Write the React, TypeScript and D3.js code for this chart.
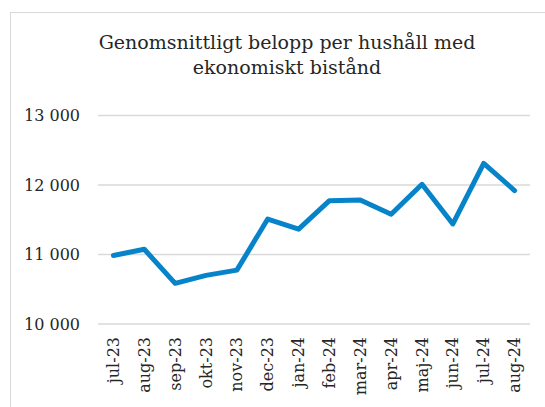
import React from "react";
import * as d3 from "d3";

const categories = ["jul-23","aug-23","sep-23","okt-23","nov-23","dec-23","jan-24","feb-24","mar-24","apr-24","maj-24","jun-24","jul-24","aug-24"];
const values = [10985, 11075, 10585, 10700, 10775, 11510, 11365, 11775, 11785, 11580, 12010, 11440, 12310, 11920];
const yTicks = [10000, 11000, 12000, 13000];
const titleLines = ["Genomsnittligt belopp per hushåll med", "ekonomiskt bistånd"];

const W = 545, H = 407;
const FONT = "DejaVu Serif";

export default function App() {
  const x = d3.scaleBand<string>().domain(categories).range([98, 530]);
  const y = d3.scaleLinear().domain([10000, 13000]).range([324, 115.5]);
  const line = d3.line<number>()
    .x((_, i) => (x(categories[i]) as number) + x.bandwidth() / 2)
    .y(d => y(d));
  const fmt = (v: number) => d3.format(",")(v).replace(",", " ");
  return (
    <svg width={W} height={H} style={{ position: "absolute", left: 0, top: 0 }}>
      <rect x={10.5} y={12.5} width={700} height={700} fill="none" stroke="#d9d9d9" strokeWidth={1} />
      {titleLines.map((t, i) => (
        <text key={i} x={287} y={49 + i * 25} textAnchor="middle" fontSize={19} fill="#262626" style={{ fontFamily: FONT }}>{t}</text>
      ))}
      {yTicks.map(t => (
        <g key={t}>
          <line x1={98} x2={530} y1={y(t)} y2={y(t)} stroke="#d9d9d9" strokeWidth={1.5} />
          <text x={80} y={y(t)} dy="0.35em" textAnchor="end" fontSize={16} fill="#262626" style={{ fontFamily: FONT }}>{fmt(t)}</text>
        </g>
      ))}
      {categories.map(c => (
        <text key={c} transform={`translate(${(x(c) as number) + x.bandwidth() / 2},337) rotate(-90)`}
          dy="0.35em" textAnchor="end" fontSize={16} fill="#262626" style={{ fontFamily: FONT }}>{c}</text>
      ))}
      <path d={line(values) || ""} fill="none" stroke="#0784c9" strokeWidth={5} strokeLinejoin="round" strokeLinecap="round" />
    </svg>
  );
}
